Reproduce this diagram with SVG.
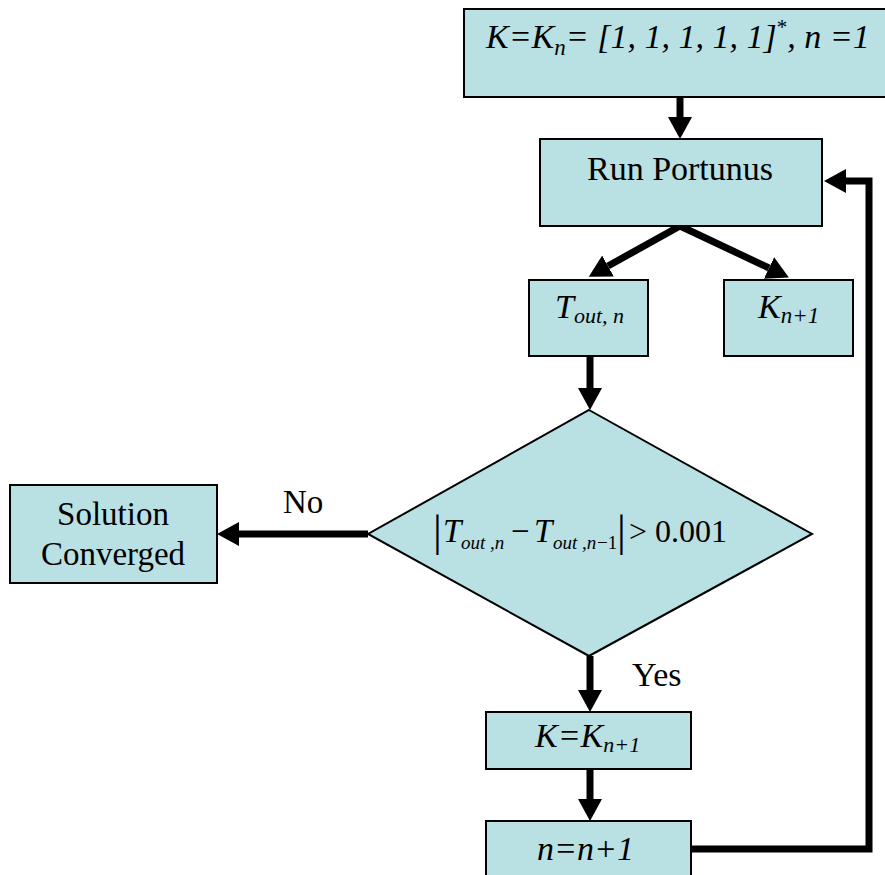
<svg xmlns="http://www.w3.org/2000/svg" width="885" height="875" viewBox="0 0 885 875">
<style>
.box{fill:#b9e0e3;stroke:#000;stroke-width:2}
.t{font-family:"Liberation Serif","Times New Roman",serif;fill:#000}
.i{font-style:italic}
.c{stroke:#000;stroke-width:7;fill:none}
</style>
<defs>
<marker id="ah" markerUnits="userSpaceOnUse" markerWidth="22" markerHeight="24" refX="0" refY="12" orient="auto">
<path d="M0,0 L22,12 L0,24 z" fill="#000"/>
</marker>
</defs>
<rect width="885" height="875" fill="#fff"/>
<g id="connectors">
<line class="c" x1="680" y1="97" x2="680" y2="117" marker-end="url(#ah)"/>
<line class="c" x1="680" y1="226" x2="608" y2="266" marker-end="url(#ah)"/>
<line class="c" x1="680" y1="226" x2="769" y2="268" marker-end="url(#ah)"/>
<line class="c" x1="590" y1="356" x2="590" y2="388" marker-end="url(#ah)"/>
<line class="c" x1="368" y1="534" x2="239" y2="534" marker-end="url(#ah)"/>
<line class="c" x1="590" y1="656" x2="590" y2="690" marker-end="url(#ah)"/>
<line class="c" x1="590" y1="769" x2="590" y2="799" marker-end="url(#ah)"/>
<polyline class="c" points="691,849 869,849 869,181 846,181" marker-end="url(#ah)"/>
<text class="t" x="283" y="513" font-size="33">No</text>
<text class="t" x="632" y="686" font-size="34">Yes</text>
</g>
<g id="init">
<rect class="box" x="464" y="9" width="430" height="88"/>
<text class="t i" x="486" y="48" font-size="34">K=K<tspan font-size="23" dy="7">n</tspan><tspan dy="-7">= [1, 1, 1, 1, 1]</tspan><tspan font-size="21" font-style="normal" dy="-14">*</tspan><tspan dy="14">, n =1</tspan></text>
</g>
<g id="run">
<rect class="box" x="540" y="139" width="282" height="87"/>
<text class="t" x="680" y="180" font-size="34" text-anchor="middle">Run Portunus</text>
</g>
<g id="tout">
<rect class="box" x="529" y="280" width="119" height="76"/>
<text class="t i" x="555" y="318" font-size="34">T<tspan font-size="22" dy="5">out, n</tspan></text>
</g>
<g id="knext">
<rect class="box" x="724" y="280" width="129" height="76"/>
<text class="t i" x="758" y="318" font-size="34">K<tspan font-size="23" dy="5">n+1</tspan></text>
</g>
<g id="decision">
<polygon class="box" points="589,410 812,534 589,656 368,534"/>
<text class="t" font-size="33">
<tspan x="433" y="546" font-size="44">|</tspan>
<tspan x="443" y="542" font-style="italic">T</tspan>
<tspan x="461" y="549" font-size="19" font-style="italic">out ,n</tspan>
<tspan x="511" y="542">−</tspan>
<tspan x="534" y="542" font-style="italic">T</tspan>
<tspan x="553" y="549" font-size="19" font-style="italic">out ,n</tspan>
<tspan x="597" y="549" font-size="19">−1</tspan>
<tspan x="617" y="546" font-size="44">|</tspan>
<tspan x="629" y="542" font-size="32">&gt; 0.001</tspan>
</text>
</g>
<g id="converged">
<rect class="box" x="10" y="485" width="207" height="98"/>
<text class="t" x="113" y="525" font-size="33" text-anchor="middle">Solution</text>
<text class="t" x="113" y="565" font-size="33" text-anchor="middle">Converged</text>
</g>
<g id="kupdate">
<rect class="box" x="486" y="712" width="205" height="57"/>
<text class="t i" x="535" y="747" font-size="34">K=K<tspan font-size="22" dy="5">n+1</tspan></text>
</g>
<g id="nupdate">
<rect class="box" x="486" y="821" width="205" height="70"/>
<text class="t i" x="537" y="860" font-size="34">n=n+1</text>
</g>
</svg>
